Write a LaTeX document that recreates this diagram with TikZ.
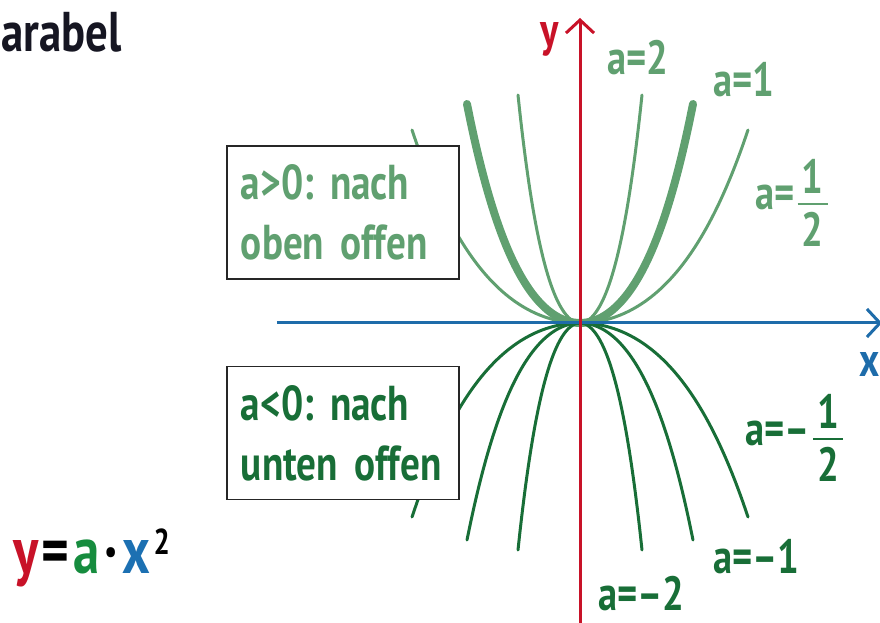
\documentclass[tikz,border=0pt]{standalone}
\usepackage{fontspec}
\setmainfont{PT Sans}[FakeStretch=0.8]
\usepackage{amsmath}
\usetikzlibrary{
  calc,
  positioning,
  arrows.meta}

\definecolor{upgreen}{RGB}{96,160,112}
\definecolor{downgreen}{RGB}{24,110,55}
\definecolor{axisred}{RGB}{200,18,40}
\definecolor{axisblue}{RGB}{30,108,170}
\definecolor{formgreen}{RGB}{22,140,62}
\definecolor{formblue}{RGB}{28,112,178}
\definecolor{titleblack}{RGB}{22,22,34}

\frenchspacing
\protected\def\boxfont{\fontsize{49}{60}\selectfont\bfseries\spaceskip=5pt plus 2pt\relax\hyphenpenalty=10000\relax}
\protected\def\half{$\genfrac{}{}{2.5pt}{0}{\text{\makebox[30pt]{1}}}{\text{\makebox[30pt]{2}}}$}

\tikzset{
  axisline/.style={
    line width=3pt,
    -{Straight Barb[length=13pt,width=28pt]}
  },
  upcurve/.style={
    upgreen,
    line width=3pt,
    line cap=round
  },
  downcurve/.style={
    downgreen,
    line width=3pt,
    line cap=round
  },
  infobox/.style={
    draw=black!85,
    line width=1.8pt,
    fill=white,
    minimum width=232pt,
    minimum height=133pt,
    text width=204pt,
    inner xsep=14pt,
    align=left,
    font=\boxfont
  },
  curvelabel/.style={
    inner sep=0pt,
    anchor=base west,
    font=\fontsize{48}{54}\selectfont\bfseries
  }
}

\begin{document}
\begin{tikzpicture}[x=1pt,y=1pt]
  \useasboundingbox (-580,-300) rectangle (300,323);

  % Curves, a > 0
  \draw[upcurve]
    plot[domain=-62:62, samples=60, smooth]
    (\x,{228*(0.7*(\x/62)^2+0.3*(\x/62)^4)});
  \draw[upcurve, line width=8pt]
    plot[domain=-113:113, samples=60, smooth]
    (\x,{219*(0.7*(\x/113)^2+0.3*(\x/113)^4)});
  \draw[upcurve]
    plot[domain=-168:168, samples=60, smooth]
    (\x,{193*(0.7*(\x/168)^2+0.3*(\x/168)^4)});

  % Curves, a < 0
  \draw[downcurve]
    plot[domain=-62:62, samples=60, smooth]
    (\x,{-227*(0.7*(\x/62)^2+0.3*(\x/62)^4)});
  \draw[downcurve]
    plot[domain=-113:113, samples=60, smooth]
    (\x,{-217*(0.7*(\x/113)^2+0.3*(\x/113)^4)});
  \draw[downcurve]
    plot[domain=-168:168, samples=60, smooth]
    (\x,{-194*(0.7*(\x/168)^2+0.3*(\x/168)^4)});

  % Axes
  \coordinate (xstart) at (-303,0);
  \coordinate (xend) at (302,0);
  \coordinate (ystart) at (0,-302);
  \coordinate (yend) at (0,305);

  \draw[axisline, axisblue] (xstart) -- (xend);
  \draw[axisline, axisred] (ystart) -- (yend);

  \node[
    text=axisred,
    font=\fontsize{48}{54}\selectfont\bfseries,
    inner sep=0pt
  ] (ylabel) at (-30,284) {y};

  \node[
    text=axisblue,
    font=\fontsize{48}{54}\selectfont\bfseries,
    inner sep=0pt,
    anchor=base east
  ] (xlabel) at (300,-54) {x};

  % Boxes
  \node[infobox, text=upgreen] (upbox) at (-237,110.5)
    {a>0: nach\\oben offen};
  \node[infobox, text=downgreen] (downbox) at (-237,-110)
    {a<0: nach\\unten offen};

  % Curve labels
  \node[curvelabel, text=upgreen] (atwo) at (27,248) {a=2};
  \node[curvelabel, text=upgreen] (aone) at (133,226) {a=1};
  \node[curvelabel, text=upgreen] (ahalf) at (175,113)
    {a=\kern2pt\half};
  \node[curvelabel, text=downgreen] (amhalf) at (165,-122)
    {a=\textendash\kern2pt\half};
  \node[curvelabel, text=downgreen] (amone) at (133,-250) {a=\textendash1};
  \node[curvelabel, text=downgreen] (amtwo) at (18,-287) {a=\textendash2};

  % Title and formula
  \node[
    text=titleblack,
    font=\fontsize{56}{60}\selectfont\bfseries,
    inner sep=0pt,
    anchor=base west
  ] (title) at (-579,271) {arabel};

  \node[
    font=\fontsize{66}{70}\selectfont\bfseries,
    inner sep=0pt,
    anchor=base west
  ] (formula) at (-567,-250)
    {\textcolor{axisred}{y}\kern3pt=\kern4pt\textcolor{formgreen}{a}\kern5pt\textperiodcentered\kern5pt\textcolor{formblue}{x}\kern3pt\raisebox{19pt}{\fontsize{36}{38}\selectfont 2}};
\end{tikzpicture}
\end{document}
